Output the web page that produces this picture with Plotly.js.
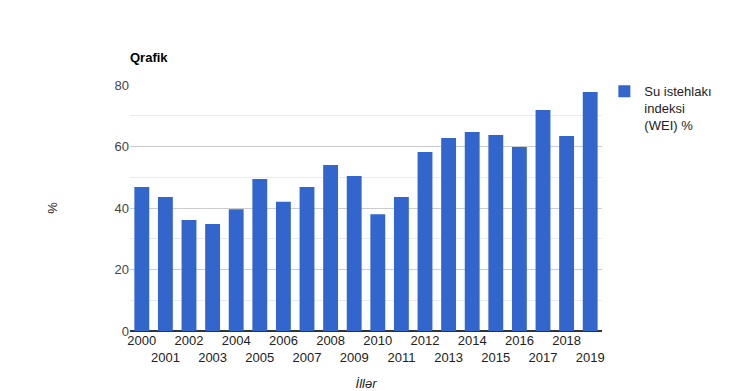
<!DOCTYPE html>
<html>
<head>
<meta charset="utf-8">
<script src="https://cdn.plot.ly/plotly-3.0.1.min.js"></script>
<style>html,body{margin:0;padding:0;background:#fff;}</style>
</head>
<body>
<div id="chart" style="width:751px;height:391px;"></div>
<script>
const years = ["2000","2001","2002","2003","2004","2005","2006","2007","2008","2009","2010","2011","2012","2013","2014","2015","2016","2017","2018","2019"];
const weiValues = [46.8,43.6,36.1,34.8,39.6,49.4,42.0,46.8,54.0,50.4,38.0,43.6,58.2,62.8,64.7,63.7,59.8,71.9,63.4,77.7];
const seriesName = "Su istehlakı<br>indeksi<br>(WEI) %";
const yTicks = [0,20,40,60,80];

const tickText = years.map((y,i) => i % 2 === 1 ? "<br>" + y : y);

const trace = {
  type: "bar",
  x: years,
  y: weiValues,
  name: seriesName,
  marker: {color: "#3366cc"},
  showlegend: true
};

const layout = {
  width: 751, height: 391,
  margin: {l: 130, r: 149, t: 85, b: 60},
  paper_bgcolor: "#fff", plot_bgcolor: "#fff",
  font: {family: "Liberation Sans, Arial, sans-serif", size: 13, color: "#222"},
  bargap: 0.37,
  title: {text: "<b>Qrafik</b>", x: 130/751, xanchor: "left", y: 1 - 57/391, yanchor: "middle", font: {size: 13, color: "#000"}},
  xaxis: {
    type: "category",
    tickvals: years, ticktext: tickText,
    tickangle: 0,
    showgrid: false, showline: false, zeroline: false,
    ticks: "", ticklen: 0,
    tickfont: {size: 13, color: "#222"},
    title: {text: "<i>İllər</i>", standoff: 28, font: {size: 13, color: "#222"}},
    automargin: false
  },
  yaxis: {
    range: [0, 80],
    tickvals: yTicks,
    showgrid: true, gridcolor: "#cccccc",
    minor: {dtick: 10, showgrid: true, gridcolor: "#ebebeb", ticks: ""},
    zeroline: true, zerolinecolor: "#333", zerolinewidth: 1.5,
    showline: false, ticks: "",
    tickfont: {size: 13, color: "#444"},
    title: {text: "%", standoff: 53, font: {size: 13, color: "#222"}},
    automargin: false
  },
  legend: {x: 1.005, xanchor: "left", y: 1.035, yanchor: "top", valign: "top", font: {size: 13, color: "#222"}, bgcolor: "rgba(0,0,0,0)"},
  hovermode: false
};

Plotly.newPlot("chart", [trace], layout, {displayModeBar: false, staticPlot: true});
</script>
</body>
</html>
